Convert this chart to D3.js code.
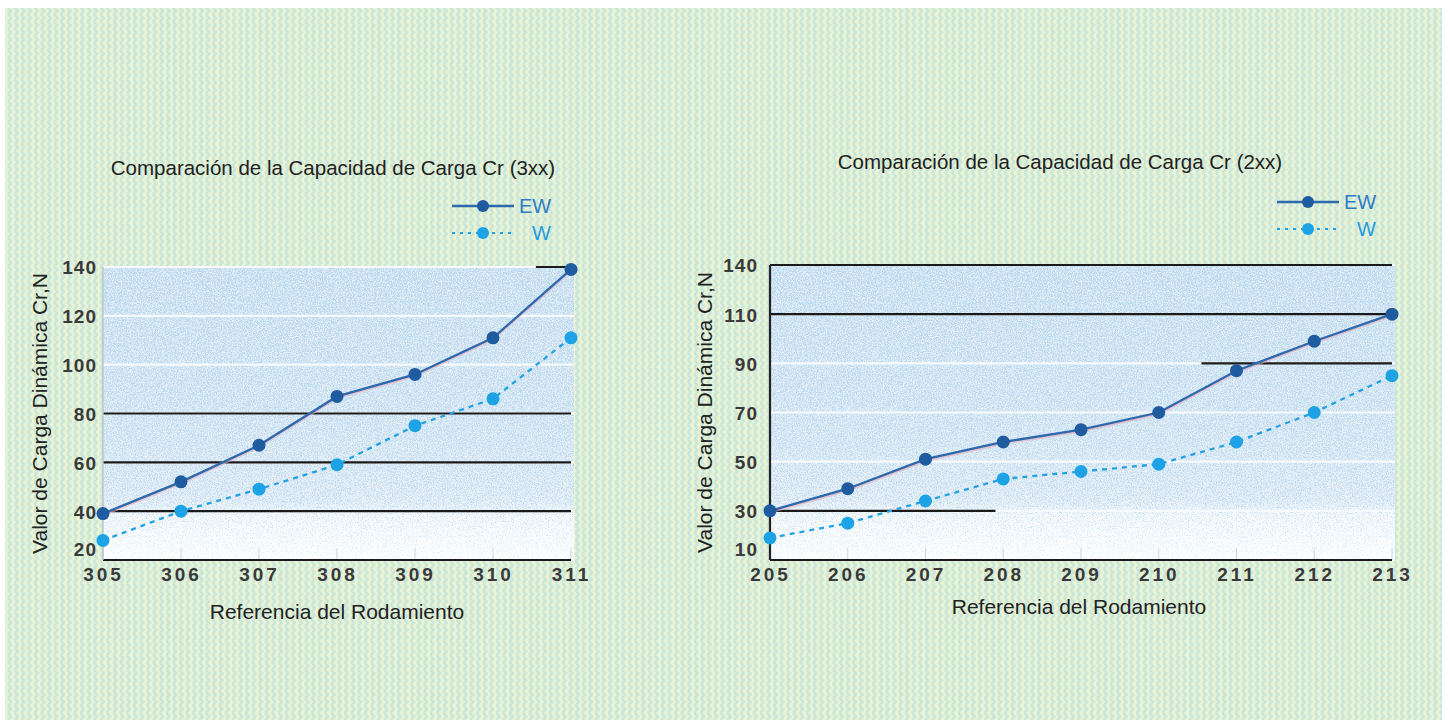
<!DOCTYPE html>
<html><head><meta charset="utf-8">
<script src="https://cdn.jsdelivr.net/npm/d3@7"></script>
<style>body{margin:0;background:#fff}svg{display:block}</style>
</head><body><svg id="c" width="1450" height="720"></svg>
<script>
// ---------- DATA ----------
const seriesNames = ["EW", "W"];
const xTitle = "Referencia del Rodamiento";
const yTitle = "Valor de Carga Dinámica Cr,N";

const title3 = "Comparación de la Capacidad de Carga Cr (3xx)";
const cats3 = ["305","306","307","308","309","310","311"];
const ew3 = [39, 52, 67, 87, 96, 111, 139];
const w3  = [28, 40, 49, 59, 75, 86, 111];
const yTicks3 = [20, 40, 60, 80, 100, 120, 140];
const yLabels3 = ["20","40","60","80","100","120","140"];

const title2 = "Comparación de la Capacidad de Carga Cr (2xx)";
const cats2 = ["205","206","207","208","209","210","211","212","213"];
const ew2 = [30, 39, 51, 58, 63, 70, 87, 99, 110];
const w2  = [19, 25, 34, 43, 46, 49, 58, 70, 85];
const yTicks2 = [10, 30, 50, 70, 90, 110, 130];
const yLabels2 = ["10","30","50","70","90","110","140"];

// ---------- DRAWING ----------
const svg = d3.select("#c");
const defs = svg.append("defs");

// zigzag background pattern
const pat = defs.append("pattern").attr("id","zz").attr("width",6.6).attr("height",7.2)
  .attr("patternUnits","userSpaceOnUse");
pat.append("rect").attr("width",6.6).attr("height",7.2).attr("fill","#edf4d2");
pat.append("path").attr("d","M1.3,0 L4.6,3.6 L1.3,7.2").attr("fill","none")
  .attr("stroke","#c8e7dc").attr("stroke-width",2.6);

svg.append("rect").attr("x",5).attr("y",8).attr("width",1437).attr("height",712).attr("fill","url(#zz)");

// speckle filters (blue dots and white dots)
function speck(id, seed, rgb, k, b) {
  const f = defs.append("filter").attr("id",id).attr("x",0).attr("y",0).attr("width","100%").attr("height","100%");
  f.append("feTurbulence").attr("type","fractalNoise").attr("baseFrequency",0.8).attr("numOctaves",2).attr("seed",seed).attr("result","n");
  f.append("feColorMatrix").attr("in","n").attr("type","matrix")
    .attr("values",`0 0 0 0 ${rgb[0]}  0 0 0 0 ${rgb[1]}  0 0 0 0 ${rgb[2]}  ${k} 0 0 0 ${b}`);
}
speck("speckB", 4, [0.40,0.66,0.88], 16, -8.6);
speck("speckW", 9, [1,1,1], 14, -7.2);

function drawChart(cfg) {
  const {id, cats, ew, w, yTicks, yLabels, title, x0, x1, yTop, yBot, yDom, plotRight,
         blackRules, axisColor, whiteFrom, titleX, titleY, legX, legY, yTitleX, xTitleX, xTitleY, yLabX, xLabY} = cfg;
  const g = svg.append("g");
  const x = d3.scalePoint().domain(cats).range([x0, x1]);
  const y = d3.scaleLinear().domain(yDom).range([yBot, yTop]);
  const xi = t => x0 + t * (x1 - x0) / (cats.length - 1);
  const pw = plotRight - x0, ph = yBot - yTop;

  // plot background gradient
  const grad = defs.append("linearGradient").attr("id","bg"+id).attr("x1",0).attr("y1",0).attr("x2",0).attr("y2",1);
  grad.append("stop").attr("offset","0%").attr("stop-color","#c9def0");
  grad.append("stop").attr("offset","55%").attr("stop-color","#d2e4f2");
  grad.append("stop").attr("offset",(whiteFrom*100-3)+"%").attr("stop-color","#dde9f4");
  grad.append("stop").attr("offset",(whiteFrom*100+2)+"%").attr("stop-color","#f4f8fb");
  grad.append("stop").attr("offset","100%").attr("stop-color","#ffffff");
  g.append("rect").attr("x",x0).attr("y",yTop).attr("width",pw).attr("height",ph).attr("fill","url(#bg"+id+")");

  const mg = defs.append("linearGradient").attr("id","mg"+id).attr("x1",0).attr("y1",0).attr("x2",0).attr("y2",1);
  mg.append("stop").attr("offset","0%").attr("stop-color","#fff");
  mg.append("stop").attr("offset",(whiteFrom*100)+"%").attr("stop-color","#ccc");
  mg.append("stop").attr("offset","100%").attr("stop-color","#555");
  const mask = defs.append("mask").attr("id","mk"+id).attr("maskUnits","userSpaceOnUse")
    .attr("x",x0).attr("y",yTop).attr("width",pw).attr("height",ph);
  mask.append("rect").attr("x",x0).attr("y",yTop).attr("width",pw).attr("height",ph).attr("fill","url(#mg"+id+")");
  const sg = g.append("g").attr("mask","url(#mk"+id+")");
  sg.append("rect").attr("x",x0).attr("y",yTop).attr("width",pw).attr("height",ph)
    .attr("fill","#fff").attr("filter","url(#speckB)").attr("opacity",0.7);
  g.append("rect").attr("x",x0).attr("y",yTop).attr("width",pw).attr("height",ph)
    .attr("fill","#fff").attr("filter","url(#speckW)").attr("opacity",0.5);

  // white gridlines
  g.selectAll(".gw").data(yTicks).join("line")
    .attr("x1",x0).attr("x2",plotRight).attr("y1",d=>y(d)).attr("y2",d=>y(d))
    .attr("stroke","#f7fafc").attr("stroke-width",2.2);

  // faint tick marks at categories
  g.selectAll(".tk").data(cats).join("line")
    .attr("x1",d=>x(d)).attr("x2",d=>x(d)).attr("y1",yBot-12).attr("y2",yBot)
    .attr("stroke","#c9d6dd").attr("stroke-width",1);

  // black rules
  blackRules.forEach(r => {
    g.append("line").attr("x1",xi(r.from)).attr("x2",xi(r.to)).attr("y1",y(r.v)).attr("y2",y(r.v))
      .attr("stroke","#1a1a1a").attr("stroke-width",2.2);
  });
  // y axis line
  g.append("line").attr("x1",x0).attr("x2",x0).attr("y1",yTop).attr("y2",yBot)
    .attr("stroke",axisColor).attr("stroke-width",axisColor==="#222"?2.2:1.5);

  const nf = "'Liberation Sans Narrow','Liberation Sans',sans-serif";
  // axes labels via d3 axes
  const ya = d3.axisLeft(y).tickValues(yTicks).tickSize(0).tickPadding(0)
    .tickFormat((d,i)=>yLabels[i]);
  const yag = g.append("g").attr("transform",`translate(${yLabX},0)`).call(ya);
  yag.select(".domain").remove();
  yag.selectAll("text").attr("font-family",nf)
    .attr("font-weight","bold").attr("font-size",19).attr("fill","#3a3a3a")
    .attr("letter-spacing",1)
    .attr("dy",(d,i)=> i===0 ? "-0.22em" : "0.36em");

  const xa = d3.axisBottom(x).tickSize(0).tickPadding(0);
  const xag = g.append("g").attr("transform",`translate(0,${xLabY})`).call(xa);
  xag.select(".domain").remove();
  xag.selectAll("text").attr("font-family",nf)
    .attr("font-weight","bold").attr("font-size",19).attr("fill","#3a3a3a").attr("dy","0.71em")
    .attr("letter-spacing",3);

  // series lines
  const line = d3.line().x((d,i)=>x(cats[i])).y(d=>y(d));
  g.append("path").datum(ew).attr("d",line).attr("transform","translate(0,1.5)")
    .attr("fill","none").attr("stroke","#e9a9bb").attr("stroke-width",2.5).attr("opacity",0.6);
  g.append("path").datum(ew).attr("d",line).attr("fill","none").attr("stroke","#2c69ad").attr("stroke-width",2.3);
  g.append("path").datum(w).attr("d",line).attr("fill","none").attr("stroke","#22a2e2").attr("stroke-width",2.3)
    .attr("stroke-dasharray","5,5");
  g.selectAll(".mew").data(ew).join("circle").attr("cx",(d,i)=>x(cats[i])).attr("cy",d=>y(d)).attr("r",6.5).attr("fill","#1f5b9f");
  g.selectAll(".mw").data(w).join("circle").attr("cx",(d,i)=>x(cats[i])).attr("cy",d=>y(d)).attr("r",6.5).attr("fill","#1da2e6");

  // legend
  const lg = g.append("g").attr("transform",`translate(${legX},${legY})`);
  lg.append("line").attr("x1",0).attr("x2",62).attr("y1",0).attr("y2",0).attr("stroke","#2c69ad").attr("stroke-width",2.5);
  lg.append("circle").attr("cx",31).attr("cy",0).attr("r",6).attr("fill","#1f5b9f");
  lg.append("text").attr("x",67).attr("y",0).attr("dy","0.36em").text(seriesNames[0])
    .attr("font-family",nf).attr("font-size",20).attr("fill","#2f7bc4");
  lg.append("line").attr("x1",0).attr("x2",62).attr("y1",27).attr("y2",27).attr("stroke","#22a2e2").attr("stroke-width",2)
    .attr("stroke-dasharray","3,5");
  lg.append("circle").attr("cx",31).attr("cy",27).attr("r",6).attr("fill","#1da2e6");
  lg.append("text").attr("x",80).attr("y",27).attr("dy","0.36em").text(seriesNames[1])
    .attr("font-family",nf).attr("font-size",20).attr("fill","#1f9be0");

  // titles
  const tf = "'Liberation Sans',Arial,sans-serif";
  g.append("text").attr("x",titleX).attr("y",titleY).attr("text-anchor","middle").text(title)
    .attr("font-family",tf).attr("font-size",20.5).attr("fill","#222");
  g.append("text").attr("x",xTitleX).attr("y",xTitleY).attr("text-anchor","middle").text(xTitle)
    .attr("font-family",tf).attr("font-size",21).attr("fill","#222");
  g.append("text").attr("transform",`translate(${yTitleX},${(yTop+yBot)/2}) rotate(-90)`).attr("text-anchor","middle")
    .text(yTitle).attr("font-family",tf).attr("font-size",21).attr("fill","#222");
}

drawChart({id:"a", cats:cats3, ew:ew3, w:w3, yTicks:yTicks3, yLabels:yLabels3, title:title3,
  x0:103, x1:571, yTop:267, yBot:560, yDom:[20,140], plotRight:574,
  blackRules:[{v:20,from:0,to:6},{v:40,from:0,to:6},{v:60,from:0,to:6},{v:80,from:0,to:6},{v:140,from:5.55,to:6}],
  axisColor:"#b9c6cc", whiteFrom:0.83, titleX:333, titleY:175, legX:452, legY:206,
  yTitleX:47, xTitleX:337, xTitleY:619, yLabX:97, xLabY:567});

drawChart({id:"b", cats:cats2, ew:ew2, w:w2, yTicks:yTicks2, yLabels:yLabels2, title:title2,
  x0:770, x1:1392, yTop:265, yBot:560, yDom:[10,130], plotRight:1395,
  blackRules:[{v:10,from:0,to:8},{v:30,from:0,to:2.9},{v:90,from:5.55,to:8},{v:110,from:0,to:8},{v:130,from:0,to:8}],
  axisColor:"#222", whiteFrom:0.83, titleX:1060, titleY:169, legX:1277, legY:202,
  yTitleX:712, xTitleX:1079, xTitleY:614, yLabX:758, xLabY:567});
</script></body></html>
